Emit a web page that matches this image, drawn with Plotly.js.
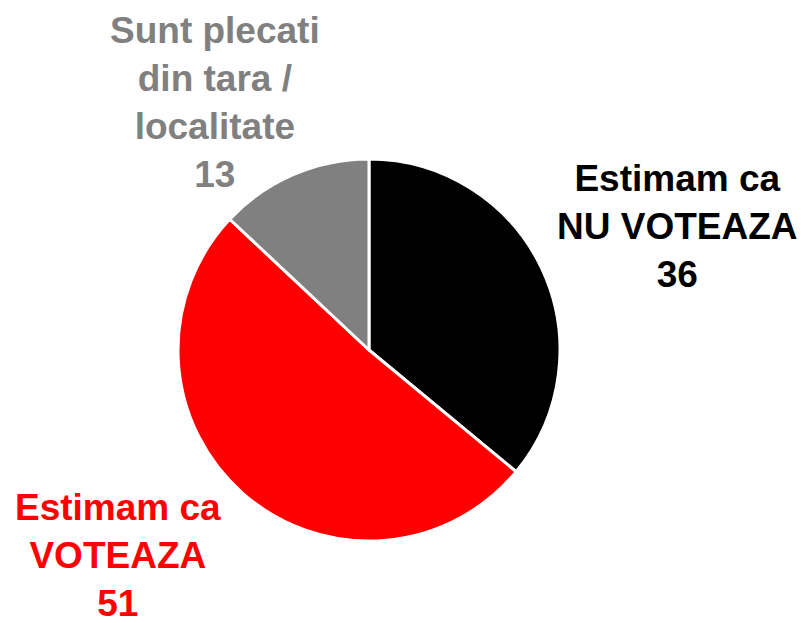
<!DOCTYPE html>
<html>
<head>
<meta charset="utf-8">
<script src="https://cdn.plot.ly/plotly-3.0.1.min.js"></script>
<style>html,body{margin:0;padding:0;background:#fff;}#chart{width:804px;height:623px;}</style>
</head>
<body>
<div id="chart"></div>
<script>
const categories = ["Estimam ca<br>NU VOTEAZA", "Estimam ca<br>VOTEAZA", "Sunt plecati<br>din tara /<br>localitate"];
const values = [36, 51, 13];
const colors = ["#000000", "#FF0000", "#808080"];
const labelPos = [[0.843, 0.636], [0.147, 0.108], [0.268, 0.835]];

const trace = {
  type: "pie",
  labels: categories,
  values: values,
  sort: false,
  direction: "clockwise",
  rotation: 0,
  textinfo: "none",
  hoverinfo: "label+value",
  marker: {colors: colors, line: {color: "#ffffff", width: 3}},
  domain: {x: [0.2214, 0.6965], y: [0.1316, 0.7448]},
  showlegend: false
};

const annotations = categories.map((c, i) => ({
  xref: "paper", yref: "paper",
  x: labelPos[i][0], y: labelPos[i][1],
  xanchor: "center", yanchor: "middle",
  text: "<b>" + c.split("<br>").join("</b><br><b>") + "</b><br><b>" + values[i] + "</b>",
  showarrow: false,
  align: "center",
  font: {family: "Liberation Sans, Arial, sans-serif", size: 37, color: colors[i]}
}));

Plotly.newPlot("chart", [trace], {
  width: 804, height: 623,
  margin: {l: 0, r: 0, t: 0, b: 0},
  paper_bgcolor: "#ffffff",
  annotations: annotations
}, {displayModeBar: false, staticPlot: true});
</script>
</body>
</html>
